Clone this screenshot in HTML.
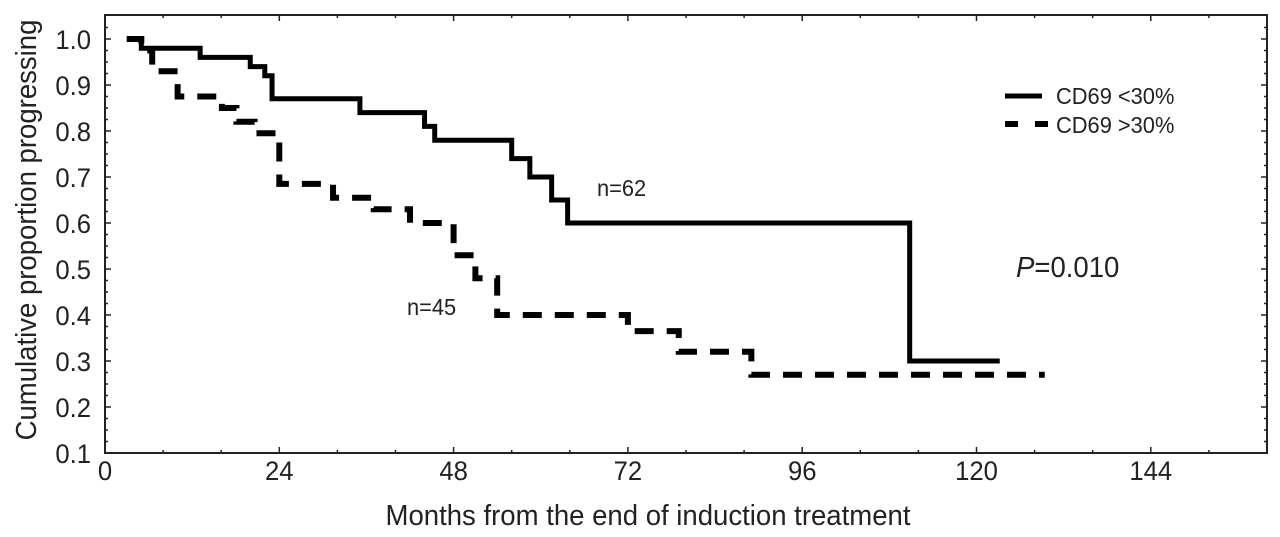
<!DOCTYPE html>
<html><head><meta charset="utf-8"><style>
html,body{margin:0;padding:0;background:#fff;}
svg{display:block;font-family:"Liberation Sans",sans-serif;}
</style></head><body>
<svg id="chart" width="1280" height="537" viewBox="0 0 1280 537"></svg>
<script>
const xTicks=[0,24,48,72,96,120,144];
const yTicks=[0.1,0.2,0.3,0.4,0.5,0.6,0.7,0.8,0.9,1.0];
const yTickLabels=["0.1","0.2","0.3","0.4","0.5","0.6","0.7","0.8","0.9","1.0"];
const lowTimes=[3,5,13.1,20,22,23,35.1,44,45.4,56,58.5,61.5,63.7,110.8,123.2];
const lowSurv=[1.0,0.98,0.96,0.94,0.92,0.87,0.84,0.81,0.78,0.74,0.70,0.65,0.60,0.30,0.30];
const highTimes=[3,5,6.5,10,16.1,18.1,20.6,24,31.4,37,42,48,51,54,72,79,89,129.4];
const highSurv=[1.0,0.975,0.93,0.875,0.85,0.82,0.795,0.685,0.655,0.63,0.60,0.53,0.48,0.40,0.365,0.32,0.27,0.27];

const L=105,R=1267,T=15,B=453;
const xMax=160,yMin=0.1,yPer=46;
const X=t=>L+(t/xMax)*(R-L);
const Y=v=>B-(v-yMin)/0.1*yPer;
const svg=document.getElementById('chart');
const NS='http://www.w3.org/2000/svg';
function mk(tag,attrs,parent){const e=document.createElementNS(NS,tag);for(const k in attrs)e.setAttribute(k,attrs[k]);(parent||svg).appendChild(e);return e;}
function txt(x,y,size,anchor,extra){
  return mk('text',{x:0,y:0,'font-size':size,fill:'#222','text-anchor':anchor,transform:'translate('+x+','+y+') '+(extra||'')+' scale(0.95,1)'});
}

const frame=mk('rect',{x:L,y:T,width:R-L,height:B-T,fill:'none',stroke:'#222','stroke-width':2});



for(let t=0;t<=xMax;t+=8){
  const major=t%24===0;const len=major?6:3;
  const a=mk('line',{x1:X(t),x2:X(t),y1:B,y2:B-len,stroke:'#222','stroke-width':1.5});
  
  
  const b=mk('line',{x1:X(t),x2:X(t),y1:T,y2:T+len,stroke:'#222','stroke-width':1.5});
  
  
}
for(let i=0;i*0.025<=0.95;i++){
  const v=yMin+i*0.025;const major=i%4===0;const len=major?6:3;
  const a=mk('line',{x1:L,x2:L+len,y1:Y(v),y2:Y(v),stroke:'#222','stroke-width':1.5});
  
  
  const b=mk('line',{x1:R,x2:R-len,y1:Y(v),y2:Y(v),stroke:'#222','stroke-width':1.5});
  
  
}
xTicks.forEach(t=>{
  const e=txt(X(t),480,27,'middle');
  e.textContent=t;
  
  
});
yTicks.forEach((v,i)=>{
  const e=txt(91,Y(v)+10,27,'end');
  e.textContent=yTickLabels[i];
  
  
});
function stepPath(ts,vs){
  let d='M'+X(ts[0])+','+Y(vs[0]);
  for(let i=1;i<ts.length;i++){d+=' H'+X(ts[i])+' V'+Y(vs[i]);}
  return d;
}
const p1=mk('path',{d:stepPath(lowTimes,lowSurv),fill:'none',stroke:'#000','stroke-width':5});


const p2=mk('path',{d:stepPath(highTimes,highSurv),fill:'none',stroke:'#000','stroke-width':6,'stroke-dasharray':'19 13'});



const l1=mk('line',{x1:1005,x2:1042,y1:96,y2:96,stroke:'#000','stroke-width':5});


const l2=mk('line',{x1:1005,x2:1048,y1:124,y2:124,stroke:'#000','stroke-width':6,'stroke-dasharray':'13 17'});


const texts=[
 [1056,104,'CD69 <30%',23,'legend-label-low'],
 [1056,133,'CD69 >30%',23,'legend-label-high'],
 [597,196,'n=62',23,'n-label-low'],
 [407,315,'n=45',23,'n-label-high'],
];
texts.forEach(a=>{
  const e=txt(a[0],a[1],a[3],'start');
  e.textContent=a[2];
  
  
});
const pv=txt(1016,277,29,'start');
pv.innerHTML='<tspan font-style="italic">P</tspan>=0.010';


const xt=txt(648,525,29,'middle');
xt.textContent='Months from the end of induction treatment';


const yt=txt(36,230,29,'middle','rotate(-90)');
yt.textContent='Cumulative proportion progressing';


</script>
</body></html>
